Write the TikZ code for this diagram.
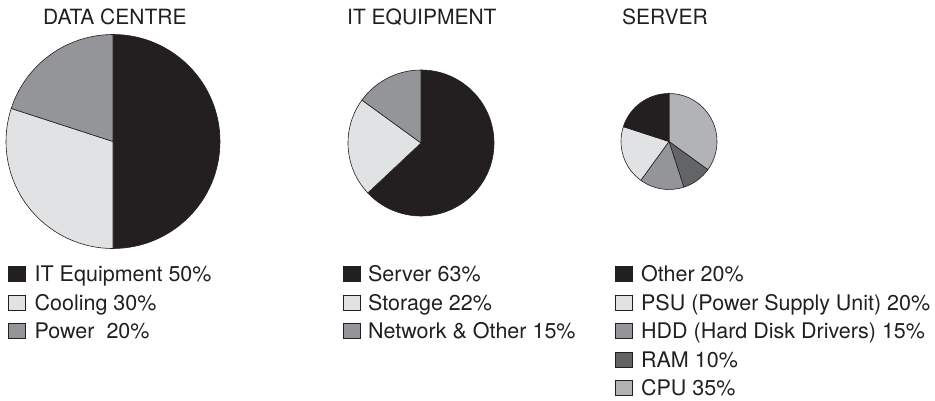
\documentclass[tikz,border=0pt]{standalone}
\usepackage{fontspec}
\setmainfont{TeX Gyre Heros}

\definecolor{ink}{HTML}{231F20}
\definecolor{pale}{HTML}{E1E2E3}
\definecolor{mid}{HTML}{939598}
\definecolor{cpugray}{HTML}{B1B3B6}
\definecolor{ramgray}{HTML}{636466}

\begin{document}
\begin{tikzpicture}[
  x=1pt, y=1pt,
  txt/.style={font=\fontsize{21}{25}\selectfont, text=ink, inner sep=0pt},
  lbl/.style={txt, font=\fontsize{21.5}{25}\selectfont, anchor=base west},
  key/.style={draw=ink, line width=0.8pt, minimum width=17pt, minimum height=15pt, inner sep=0pt},
  wedge/.style={draw=ink, line width=0.6pt, line join=round},
]

\useasboundingbox (0,0) rectangle (935,400);

% titles
\node [txt, anchor=base west] (ttl1) at (43,375) {DATA CENTRE};
\node [txt, anchor=base west] (ttl2) at (347,375) {IT EQUIPMENT};
\node [txt, anchor=base west] (ttl3) at (622,375) {SERVER};

% data centre
\coordinate (c1) at (113,258.5);
\filldraw [wedge, fill=ink] (c1) -- ++(90:107) arc [start angle=90, end angle=-90, radius=107] -- cycle;
\filldraw [wedge, fill=pale] (c1) -- ++(-90:107) arc [start angle=-90, end angle=-198, radius=107] -- cycle;
\filldraw [wedge, fill=mid] (c1) -- ++(-198:107) arc [start angle=-198, end angle=-270, radius=107] -- cycle;

% it equipment
\coordinate (c2) at (421,257);
\filldraw [wedge, fill=ink] (c2) -- ++(90:73) arc [start angle=90, end angle=-136.8, radius=73] -- cycle;
\filldraw [wedge, fill=pale] (c2) -- ++(-136.8:73) arc [start angle=-136.8, end angle=-216, radius=73] -- cycle;
\filldraw [wedge, fill=mid] (c2) -- ++(-216:73) arc [start angle=-216, end angle=-270, radius=73] -- cycle;

% server
\coordinate (c3) at (669,258.5);
\filldraw [wedge, fill=cpugray] (c3) -- ++(90:48) arc [start angle=90, end angle=-36, radius=48] -- cycle;
\filldraw [wedge, fill=ramgray] (c3) -- ++(-36:48) arc [start angle=-36, end angle=-72, radius=48] -- cycle;
\filldraw [wedge, fill=mid] (c3) -- ++(-72:48) arc [start angle=-72, end angle=-126, radius=48] -- cycle;
\filldraw [wedge, fill=pale] (c3) -- ++(-126:48) arc [start angle=-126, end angle=-198, radius=48] -- cycle;
\filldraw [wedge, fill=ink] (c3) -- ++(-198:48) arc [start angle=-198, end angle=-270, radius=48] -- cycle;

% legend, data centre
\node [key, fill=ink] (k11) at (16.5,126) {};
\node [key, fill=pale] (k12) at (16.5,97.5) {};
\node [key, fill=mid] (k13) at (16.5,69) {};
\node [lbl] (l11) at ([xshift=9pt]k11.south east) {IT Equipment 50\%};
\node [lbl] (l12) at ([xshift=9pt]k12.south east) {Cooling 30\%};
\node [lbl] (l13) at ([xshift=9pt]k13.south east) {Power\ \ 20\%};

% legend, it equipment
\node [key, fill=ink] (k21) at (352,126) {};
\node [key, fill=pale] (k22) at (352,97.5) {};
\node [key, fill=mid] (k23) at (352,69) {};
\node [lbl] (l21) at ([xshift=7pt]k21.south east) {Server 63\%};
\node [lbl] (l22) at ([xshift=7pt]k22.south east) {Storage 22\%};
\node [lbl] (l23) at ([xshift=7pt]k23.south east) {Network \& Other 15\%};

% legend, server
\node [key, fill=ink] (k31) at (624,126) {};
\node [key, fill=pale] (k32) at (624,97.5) {};
\node [key, fill=mid] (k33) at (624,69) {};
\node [key, fill=ramgray] (k34) at (624,40.5) {};
\node [key, fill=cpugray] (k35) at (624,12) {};
\node [lbl] (l31) at ([xshift=8pt]k31.south east) {Other 20\%};
\node [lbl] (l32) at ([xshift=8pt]k32.south east) {PSU (Power Supply Unit) 20\%};
\node [lbl] (l33) at ([xshift=8pt]k33.south east) {HDD (Hard Disk Drivers) 15\%};
\node [lbl] (l34) at ([xshift=8pt]k34.south east) {RAM 10\%};
\node [lbl] (l35) at ([xshift=8pt]k35.south east) {CPU 35\%};

\end{tikzpicture}
\end{document}
